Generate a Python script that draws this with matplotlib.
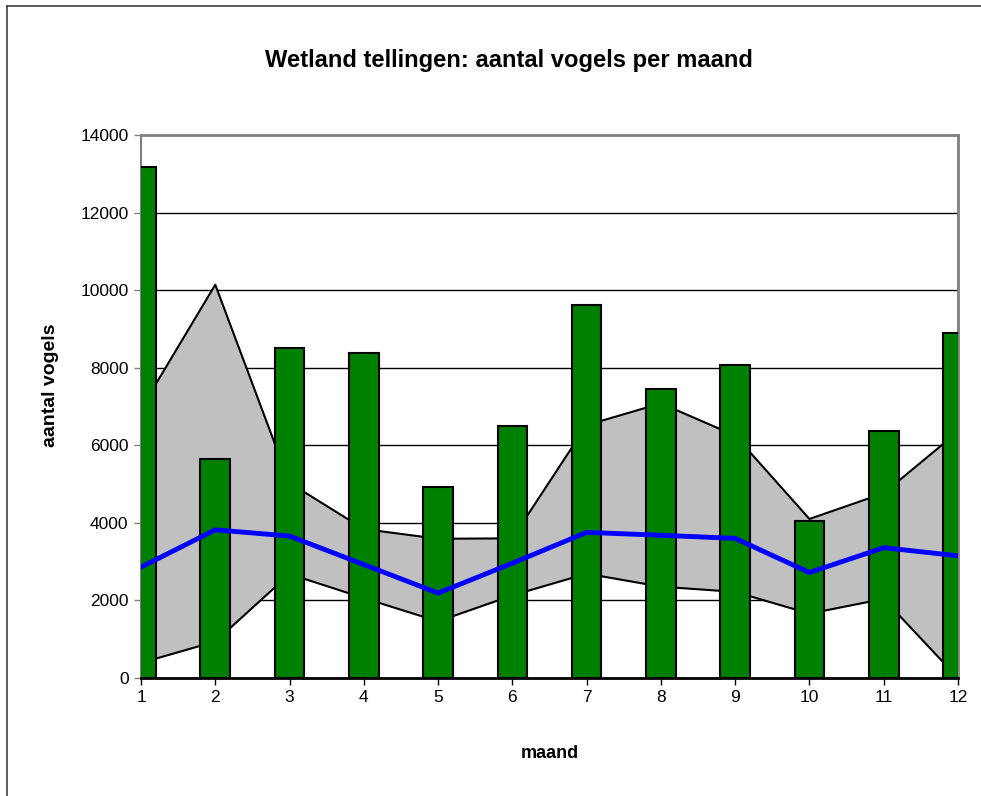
import matplotlib.pyplot as plt
import numpy as np
from matplotlib.lines import Line2D

# data
maand = [1, 2, 3, 4, 5, 6, 7, 8, 9, 10, 11, 12]
aantal = [13170, 5640, 8500, 8370, 4930, 6510, 9620, 7450, 8070, 4050, 6380, 8900]
maximum = [6940, 10140, 5030, 3840, 3590, 3600, 6520, 7080, 6250, 4100, 4765, 6350]
minimum = [390, 940, 2680, 2060, 1460, 2130, 2690, 2355, 2220, 1660, 2040, 0]
gemiddeld = [2860, 3820, 3660, 2925, 2190, 2960, 3755, 3680, 3600, 2720, 3360, 3150]
yticks = [0, 2000, 4000, 6000, 8000, 10000, 12000, 14000]

plt.rcParams['font.family'] = ['Liberation Sans', 'DejaVu Sans']
plt.rcParams['font.size'] = 12.5

fig = plt.figure(figsize=(9.81, 7.96), dpi=100)
ax = fig.add_axes([141/981, 1-678/796, (958-141)/981, (678-135)/796])

# gridlines behind everything
for v in yticks[1:-1]:
    ax.axhline(v, color='black', lw=1.0, zorder=0)

# min-max band
ax.fill_between(maand, minimum, maximum, color='#C0C0C0', lw=0, zorder=1)
ax.plot(maand, maximum, '-', color='black', lw=1.5, zorder=2)
ax.plot(maand, minimum, '-', color='black', lw=1.5, zorder=2)

# bars
ax.bar(maand, aantal, width=0.4, color='#008000', edgecolor='black', lw=1.5, zorder=3)

# mean line
ax.plot(maand, gemiddeld, '-', color='#0000FF', lw=3.5, zorder=4, solid_joinstyle='miter')

ax.set_xlim(1, 12)
ax.set_ylim(0, 14000)
ax.set_xticks(maand)
ax.set_yticks(yticks)
ax.tick_params(axis='both', direction='out', length=5, width=1.0, pad=4)
ax.tick_params(axis='y', colors='#808080', labelcolor='black')
ax.tick_params(axis='x', colors='black', labelcolor='black')

ax.spines['top'].set_color('#808080')
ax.spines['top'].set_linewidth(2.0)
ax.spines['right'].set_color('#808080')
ax.spines['right'].set_linewidth(2.0)
ax.spines['left'].set_color('#808080')
ax.spines['left'].set_linewidth(1.5)
ax.spines['bottom'].set_color('black')
ax.spines['bottom'].set_linewidth(2.0)

ax.set_ylabel('aantal vogels', fontweight='bold', fontsize=14)
ax.yaxis.set_label_coords(-(141-59)/(958-141), (678-385)/(678-135))
ax.set_xlabel('maand', fontweight='bold', fontsize=13)
ax.xaxis.set_label_coords(0.5, -(745-678)/(678-135))

fig.text(509/981, 1-61/796, 'Wetland tellingen: aantal vogels per maand',
         ha='center', va='center', fontweight='bold', fontsize=17.1)

# chart frame (left and top edges visible)
fig.add_artist(Line2D([7/981, 7/981], [0, 1-6/796], transform=fig.transFigure, color='#404040', lw=1.2))
fig.add_artist(Line2D([7/981, 1], [1-6/796, 1-6/796], transform=fig.transFigure, color='#404040', lw=1.2))

plt.savefig('out.png', dpi=100)
